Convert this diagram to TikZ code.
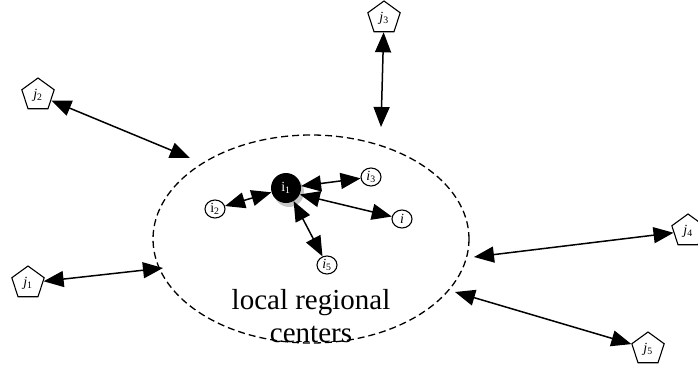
\documentclass[tikz,border=0pt]{standalone}
\usepackage{fontspec}
\setmainfont{Liberation Serif}
\usetikzlibrary{shapes.geometric,arrows.meta}
\newcommand{\lab}[2]{\textit{#1}\textsubscript{#2}}
\begin{document}
\begin{tikzpicture}[x=1pt,y=-1pt,
  pent/.style={draw,line width=1.1pt,regular polygon,regular polygon sides=5,minimum size=34pt,inner sep=0pt,font=\fontsize{14}{15}\selectfont},
  small/.style={draw,line width=1.1pt,ellipse,minimum width=20pt,minimum height=18pt,inner sep=0pt,font=\fontsize{14}{15}\selectfont},
  conn/.style={line width=1.5pt,{Triangle[length=20pt,width=16pt]}-{Triangle[length=20pt,width=16pt]}}]
\useasboundingbox (0,0) rectangle (698,367);
% ellipse
\draw[line width=1.3pt,dash pattern=on 7pt off 4pt] (311,239) ellipse [x radius=158, y radius=104];
\node[font=\fontsize{29}{33}\selectfont,align=center] (txt) at (311,316) {local regional\\centers};
% pentagons
\node[pent] (j3) at (384,18) {\lab{j}{3}};
\node[pent] (j2) at (38,95) {\lab{j}{2}};
\node[pent] (j4) at (688,231) {\lab{j}{4}};
\node[pent] (j1) at (28,283) {\lab{j}{1}};
\node[pent] (j5) at (648,349) {\lab{j}{5}};
% ellipse contact points
\coordinate (e2) at (190,158);
\coordinate (e3) at (381,127);
\coordinate (e4) at (474,257);
\coordinate (e1) at (163,268);
\coordinate (e5) at (455,292);
\draw[conn] (j2) -- (e2);
\draw[conn] (j3) -- (e3);
\draw[conn] (j4) -- (e4);
\draw[conn] (j1) -- (e1);
\draw[conn] (j5) -- (e5);
% inner nodes
\fill[gray!45] (289,192) circle (15);
\node[circle,fill=black,minimum size=30pt,inner sep=0pt,text=white,font=\fontsize{14}{15}\selectfont] (i1) at (286,188) {i\textsubscript{1}};
\node[small] (i2) at (215,209) {i\textsubscript{2}};
\node[small] (i3) at (371,177) {\lab{i}{3}};
\node[small] (i) at (402,219) {\textit{i}};
\node[small] (i5) at (327,265) {\lab{i}{5}};
\draw[conn] (i1) -- (i2);
\draw[conn] (i1) -- (i3);
\draw[conn] (i1.-25) -- (i);
\draw[conn] (i1.-60) -- (i5);
\end{tikzpicture}
\end{document}
